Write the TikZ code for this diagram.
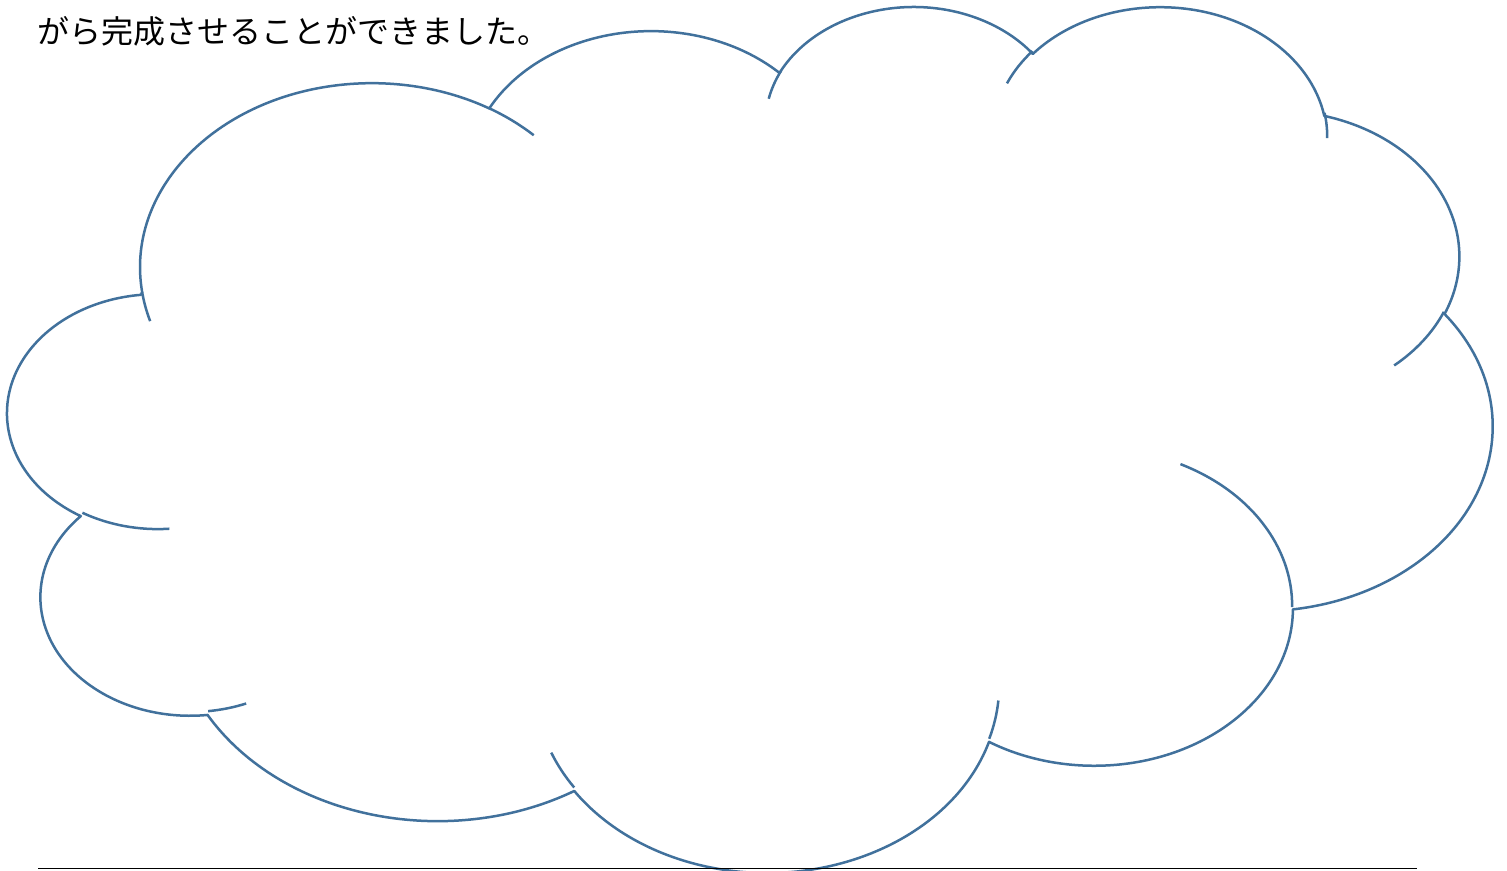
\documentclass[tikz,border=0pt]{standalone}
\usepackage{fontspec}
\newfontfamily\jpfont{Noto Sans CJK JP}
\usepackage{tikz}
\usetikzlibrary{positioning}
\definecolor{cloudblue}{RGB}{65,113,156}

\begin{document}
\begin{tikzpicture}[
    x=0.02cm, y=-0.02cm,
    outline/.style={draw=cloudblue, line width=0.05cm, line join=round},
    rule/.style={draw=black, line width=0.026cm},
    lobe/.style n args={4}{insert path={
        arc[start angle={atan2(#1*sin(#3),#2*cos(#3))},
            delta angle={mod(atan2(#1*sin(#3+#4),#2*cos(#3+#4))-atan2(#1*sin(#3),#2*cos(#3))+720,360)},
            x radius=#1, y radius=#2]}},
    lobeback/.style n args={4}{insert path={
        arc[start angle={atan2(#1*sin(#3),#2*cos(#3))},
            delta angle={-mod(atan2(#1*sin(#3),#2*cos(#3))-atan2(#1*sin(#3+#4),#2*cos(#3+#4))+720,360)},
            x radius=#1, y radius=#2]}}
]

\path[use as bounding box, fill=white] (0,0) rectangle (1507,870);

% Text above the cloud
\node[anchor=base west, inner sep=0pt, font=\jpfont\fontsize{18.2pt}{22pt}\selectfont]
    (caption) at (37,43.5) {がら完成させることができました。};

\begin{scope}[shift={(8.2,4.17)}, x=0.068708cm, y=-0.040079cm]

% Cloud outline
\draw[outline, fill=white] (39.00,143.70)
    [lobe={67.53}{91.90}{-190.4875}{123.7805}]
    [lobe={53.33}{72.67}{-144.1024}{89.9452}]
    [lobe={43.65}{59.45}{-145.8079}{99.7230}]
    [lobe={48.57}{65.95}{-130.9861}{117.2417}]
    [lobe={53.33}{72.73}{-78.7089}{109.0269}]
    [lobe={67.75}{92.20}{-46.2673}{130.2690}]
    [lobe={57.85}{78.67}{0.6250}{114.0333}]
    [lobe={67.52}{92.15}{22.4516}{115.1726}]
    [lobe={77.20}{105.43}{66.2426}{75.7110}]
    [lobe={43.60}{59.18}{-274.9421}{146.7356}]
    [lobe={43.45}{59.45}{-246.8285}{152.5189}] -- cycle;

% Inner ends of the lobes
\draw[outline] (46.93,261.77) [lobe={43.45}{59.45}{86.7420}{26.4295}];
\draw[outline] (69.28,348.99) [lobe={43.60}{59.18}{73.6105}{11.4475}];
\draw[outline] (164.78,390.90) [lobe={67.52}{92.15}{137.6242}{14.0811}];
\draw[outline] (288.27,347.51) [lobe={67.52}{92.15}{6.4533}{15.9984}];
\draw[outline] (341.29,229.54) [lobe={57.85}{78.67}{-70.2924}{70.9174}];
\draw[outline] (417.98,153.54) [lobe={53.33}{72.73}{30.3180}{27.7515}];
\draw[outline] (383.24,54.26) [lobe={48.57}{65.95}{-13.7443}{14.8589}];
\draw[outline] (290.78,39.52) [lobe={48.57}{65.95}{-149.1815}{18.1954}];
\draw[outline] (221.41,47.20) [lobe={43.65}{59.45}{-163.4943}{17.6864}];
\draw[outline] (140.00,51.92) [lobe={67.53}{91.90}{-66.7070}{12.3194}];
\draw[outline] (39.00,143.70) [lobeback={67.53}{91.90}{169.5125}{-12.1000}];

\end{scope}

% Line below the cloud
\coordinate (ruleL) at (38,868.5);
\coordinate (ruleR) at (1417,868.5);
\draw[rule] (ruleL) -- (ruleR);

\end{tikzpicture}
\end{document}
